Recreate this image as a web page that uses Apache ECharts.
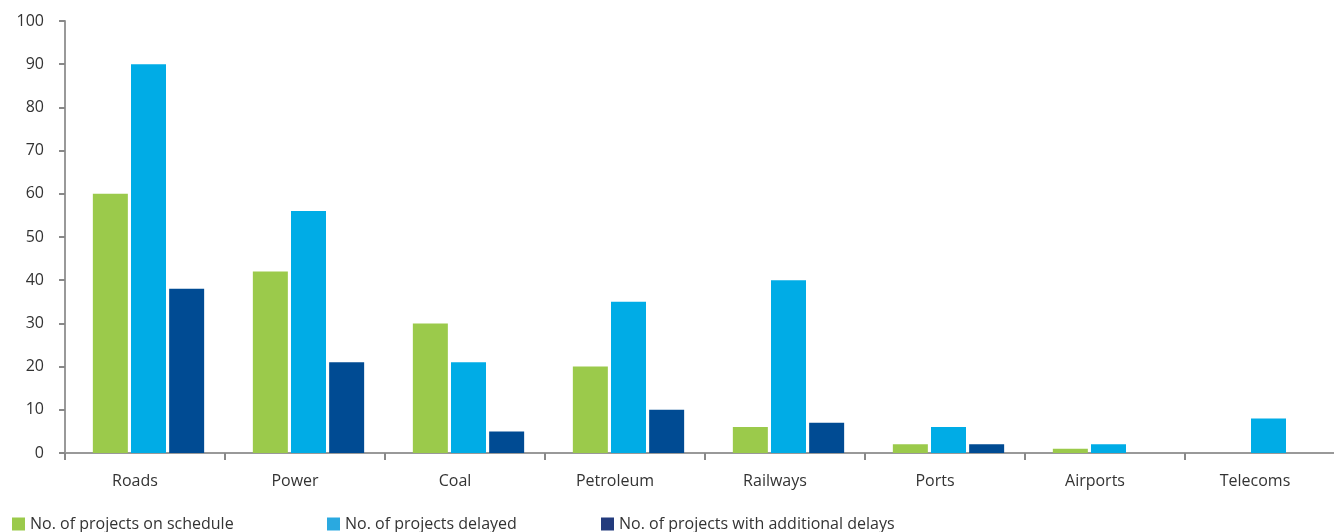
<!DOCTYPE html>
<html><head><meta charset="utf-8">
<script src="https://cdn.jsdelivr.net/npm/echarts@6/dist/echarts.min.js"></script>
<style>html,body{margin:0;padding:0;background:#fff;overflow:hidden;width:1334px;height:532px}#c{width:1350px;height:532px}</style>
</head><body><div id="c"></div>
<script>
const categories = ["Roads","Power","Coal","Petroleum","Railways","Ports","Airports","Telecoms"];
const onSchedule = [60,42,30,20,6,2,1,0];
const delayed = [90,56,21,35,40,6,2,8];
const additionalDelays = [38,21,5,10,7,2,0,0];
const yTicks = [0,10,20,30,40,50,60,70,80,90,100];
const seriesNames = ["No. of projects on schedule","No. of projects delayed","No. of projects with additional delays"];
const colors = ["#9BCA4B","#00ACE6","#004B93"];
const legendColors = ["#9BCA4B","#2AA9E0","#233B7D"];

const chart = echarts.init(document.getElementById('c'), null, {renderer:'canvas'});
const font = "'Open Sans', 'Noto Sans', sans-serif";
const legendLefts = [7, 322, 596];
const mkLegend = (i) => ({
  data:[{name:seriesNames[i], itemStyle:{color:legendColors[i]}}],
  left: legendLefts[i], top: 511, itemWidth: 13, itemHeight: 13, icon:'rect', itemGap: 0,
  textStyle:{fontFamily:font, fontSize:16, color:'#333', padding:[0,0,0,0]},
  selectedMode:false
});
const yMin = yTicks[0], yMax = yTicks[yTicks.length-1];
chart.setOption({
  animation:false,
  textStyle:{fontFamily:font},
  grid:[
    {left:65, top:21, width:1280, height:432, containLabel:false},
    {left:68.5, top:21, width:1280, height:432, containLabel:false}
  ],
  legend:[mkLegend(0), mkLegend(1), mkLegend(2)],
  xAxis:[{
    type:'category', data:categories, gridIndex:0,
    axisLine:{lineStyle:{color:'#999', width:2}},
    axisTick:{show:true, length:7, lineStyle:{color:'#888', width:2}},
    axisLabel:{fontFamily:font, fontSize:16, color:'#333', margin:20, padding:[0,20,0,0]}
  },{
    type:'category', data:categories, gridIndex:1, show:false
  }],
  yAxis:[{
    type:'value', min:yMin, max:yMax, interval:10, gridIndex:0,
    splitLine:{show:false},
    axisLine:{show:true, lineStyle:{color:'#999', width:2}},
    axisTick:{show:true, length:6, lineStyle:{color:'#888', width:2}},
    axisLabel:{fontFamily:font, fontSize:16, color:'#333', margin:21}
  },{
    type:'value', min:yMin, max:yMax, interval:10, gridIndex:1, show:false, splitLine:{show:false}
  }],
  series:[
    {name:seriesNames[0], type:'bar', data:onSchedule, barWidth:35, barGap:'9%', xAxisIndex:1, yAxisIndex:1,
     itemStyle:{color:colors[0]}},
    {name:seriesNames[1], type:'bar', data:delayed, barWidth:35, barGap:'9%', xAxisIndex:1, yAxisIndex:1,
     itemStyle:{color:colors[1]}},
    {name:seriesNames[2], type:'bar', data:additionalDelays, barWidth:35, barGap:'9%', xAxisIndex:1, yAxisIndex:1,
     itemStyle:{color:colors[2]}}
  ]
});
</script></body></html>
